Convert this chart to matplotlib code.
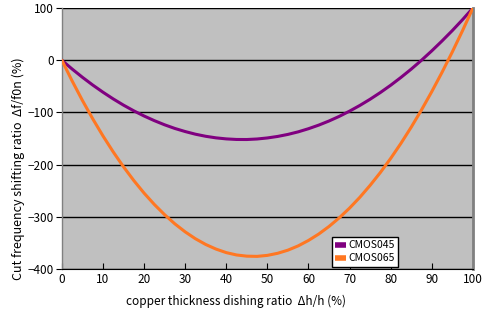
import matplotlib
matplotlib.use("Agg")
import matplotlib.pyplot as plt

plt.rcParams['font.family'] = ['Noto Sans CJK JP', 'DejaVu Sans']

# copper thickness dishing ratio (%), read every 2.5 %
x = [0, 2.5, 5, 7.5, 10, 12.5, 15, 17.5, 20, 22.5, 25, 27.5, 30, 32.5, 35, 37.5, 40,
     42.5, 45, 47.5, 50, 52.5, 55, 57.5, 60, 62.5, 65, 67.5, 70, 72.5, 75, 77.5, 80,
     82.5, 85, 87.5, 90, 92.5, 95, 97.5, 100]

cmos045 = [0, -16.8, -32.6, -47.4, -61.2, -74.1, -86.0, -96.9, -106.8, -115.7, -123.7,
           -130.7, -136.6, -141.7, -145.7, -148.7, -150.7, -151.8, -151.9, -150.9, -148.9,
           -146.0, -142.1, -137.2, -131.2, -124.3, -116.4, -107.5, -97.5, -86.6, -74.7,
           -61.8, -47.9, -32.9, -17.0, 0, 18.0, 37.0, 56.9, 77.9, 100]
cmos065 = [0, -39.6, -77.0, -112.1, -145.0, -175.7, -204.2, -230.5, -254.6, -276.4, -296.0,
           -313.6, -328.9, -342.1, -353.1, -361.9, -368.7, -373.2, -375.5, -375.9, -374.0,
           -370.0, -364.0, -355.8, -345.4, -333.1, -318.6, -302.0, -283.4, -262.7, -239.8,
           -215.1, -188.2, -159.3, -128.3, -95.3, -60.2, -23.2, 15.9, 56.9, 100]

xticks = list(range(0, 101, 10))
yticks = list(range(-400, 101, 100))

fig = plt.figure(figsize=(4.91, 3.12), dpi=100)
ax = fig.add_axes([0.126, 0.138, 0.837, 0.836])
ax.set_facecolor('#C0C0C0')

for yv in yticks:
    ax.axhline(yv, color='black', lw=1.0, zorder=1)

ax.plot(x, cmos045, color='#800080', lw=2.2, label='CMOS045', zorder=3,
        solid_capstyle='round', solid_joinstyle='round')
ax.plot(x, cmos065, color='#FF7722', lw=2.2, label='CMOS065', zorder=3,
        solid_capstyle='round', solid_joinstyle='round')

ax.set_xlim(0, 100)
ax.set_ylim(-400, 100)
ax.set_xticks(xticks)
ax.set_yticks(yticks)
ax.tick_params(axis='x', direction='in', length=4, labelsize=8.5, pad=3)
ax.tick_params(axis='y', direction='out', length=4, labelsize=8.5, pad=2)

for s in ['left', 'right']:
    ax.spines[s].set_color('#808080')
ax.spines['left'].set_linewidth(1.0)
ax.spines['right'].set_linewidth(2.0)
ax.spines['top'].set_visible(False)
ax.spines['bottom'].set_color('black')

# labels sit off-centre in the original
ax.set_xlabel('copper thickness dishing ratio  Δh/h (%)', fontsize=8.5, va='center')
ax.xaxis.set_label_coords(0.423, -0.125)
ax.set_ylabel('Cut frequency shifting ratio  Δf/f0n (%)', fontsize=9, va='center')
ax.yaxis.set_label_coords(-0.107, 0.383)

leg = ax.legend(loc='lower right', bbox_to_anchor=(0.818, 0.009), fontsize=7.5,
                frameon=True, fancybox=False, handlelength=1.1, handletextpad=0.2,
                borderpad=0.3, labelspacing=0.3, borderaxespad=0)
leg.get_frame().set_edgecolor('black')
leg.get_frame().set_linewidth(1.0)
leg.get_frame().set_alpha(1)
for h in leg.get_lines():
    h.set_linewidth(4)
    h.set_solid_capstyle('butt')

fig.savefig('out.png', dpi=100)
